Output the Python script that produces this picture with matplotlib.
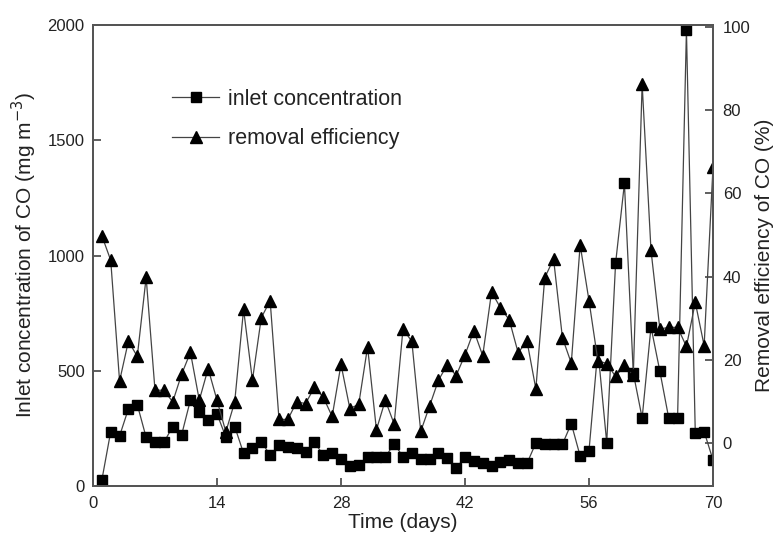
import matplotlib
matplotlib.use("Agg")
import matplotlib.pyplot as plt
from matplotlib.lines import Line2D

plt.rcParams['font.family'] = ['Liberation Sans', 'DejaVu Sans']

days = list(range(1, 71))
inlet_conc = [26, 236, 217, 335, 353, 211, 189, 189, 258, 221,
              373, 320, 286, 313, 212, 258, 142, 163, 192, 134,
              176, 170, 163, 149, 190, 134, 142, 115, 87, 89,
              125, 125, 125, 184, 127, 142, 117, 115, 144, 120,
              77, 127, 107, 98, 88, 105, 113, 98, 98, 187,
              181, 181, 181, 271, 130, 153, 592, 188, 966, 1313,
              490, 295, 690, 498, 295, 295, 1978, 229, 236, 113]
removal_eff = [49.8, 43.9, 14.9, 24.5, 20.8, 39.8, 12.7, 12.7, 9.9, 16.5,
               21.8, 10.3, 17.9, 10.3, 2.7, 9.9, 32.1, 15.1, 30.1, 34.2,
               5.7, 5.7, 9.9, 9.5, 13.4, 11.0, 6.4, 18.9, 8.3, 9.3,
               23.1, 3.2, 10.3, 4.6, 27.4, 24.4, 2.8, 8.9, 15.1, 18.8,
               16.2, 21.2, 27.0, 21.0, 36.3, 32.5, 29.6, 21.7, 24.5, 13.0,
               39.7, 44.2, 25.3, 19.2, 47.6, 34.2, 19.8, 19.1, 16.0, 18.7,
               16.3, 86.2, 46.3, 27.4, 27.8, 27.8, 23.2, 33.8, 23.4, 66.3]

x_ticks = [0, 14, 28, 42, 56, 70]
left_ticks = [0, 500, 1000, 1500, 2000]
right_ticks = [0, 20, 40, 60, 80, 100]

fig = plt.figure(figsize=(7.73, 5.40), dpi=100)
ax = fig.add_axes([93/773, 1-486/540, (713-93)/773, (486-25)/540])
ax2 = ax.twinx()

line_col = '#444444'
ax2.plot(days, removal_eff, color=line_col, lw=0.9, marker='^', ms=8.5,
         mfc='black', mec='black', zorder=2)
ax.plot(days, inlet_conc, color=line_col, lw=0.9, marker='s', ms=7,
        mfc='black', mec='black', zorder=3)

ax.set_xlim(0, 70)
ax.set_ylim(0, 2000)
ax2.set_ylim(-10.3, 100.4)
ax.set_xticks(x_ticks)
ax.set_yticks(left_ticks)
ax2.set_yticks(right_ticks)

for a in (ax, ax2):
    for s in a.spines.values():
        s.set_color('#555555')
        s.set_linewidth(1.4)

ax.tick_params(axis='both', direction='in', length=6, width=1.2, color='#444444',
               labelsize=12, labelcolor='#222222')
ax.tick_params(axis='x', pad=7)
ax.tick_params(axis='y', pad=6)
ax2.tick_params(axis='y', direction='in', length=6, width=1.2, color='#444444',
                labelsize=12, labelcolor='#222222', pad=7)

ax.set_xlabel('Time (days)', fontsize=15, color='#222222', labelpad=2)
ax.set_ylabel('Inlet concentration of CO (mg m$^{-3}$)', fontsize=15, color='#222222', labelpad=6)
ax2.set_ylabel('Removal efficiency of CO (%)', fontsize=15, color='#222222', labelpad=3)

handles = [Line2D([], [], color=line_col, lw=0.9, marker='s', ms=7, mfc='black', mec='black'),
           Line2D([], [], color=line_col, lw=0.9, marker='^', ms=8.5, mfc='black', mec='black')]
leg = ax.legend(handles, ['inlet concentration', 'removal efficiency'],
                loc='upper left', bbox_to_anchor=((172-93)/620, 1 - (89-25)/461),
                bbox_transform=ax.transAxes, frameon=False, fontsize=15.5,
                handlelength=2.2, handletextpad=0.4, labelspacing=0.85,
                borderaxespad=0, borderpad=0)
for t in leg.get_texts():
    t.set_color('#222222')

fig.savefig('out.png', dpi=100)
